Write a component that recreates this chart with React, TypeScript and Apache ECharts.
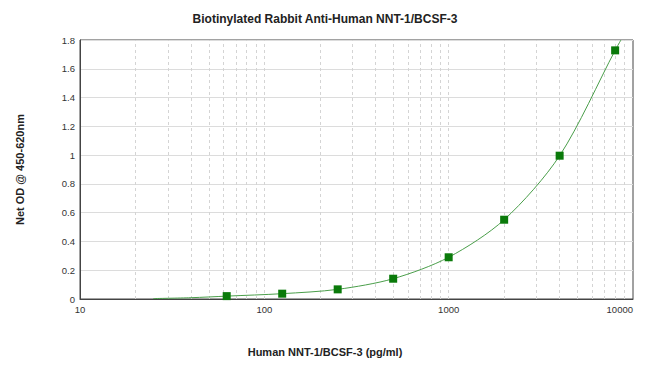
import React, { useEffect, useRef } from "react";
import * as echarts from "echarts";

const titleText = "Biotinylated Rabbit Anti-Human NNT-1/BCSF-3";
const xAxisName = "Human NNT-1/BCSF-3 (pg/ml)";
const yAxisName = "Net OD @ 450-620nm";

// Standards (pg/ml) and measured Net OD
const concentrations = [62.5, 125, 250, 500, 1000, 2000, 4000, 8000];
const odValues = [0.02, 0.037, 0.067, 0.141, 0.29, 0.551, 0.996, 1.728];

// Fitted curve
const curveX = [25, 40, 62.5, 125, 250, 500, 1000, 2000, 4000, 8000, 8600];
const curveY = [0.003, 0.009, 0.02, 0.037, 0.067, 0.141, 0.29, 0.551, 0.996, 1.728, 1.8];

// Vertical log grid lines
const logGridValues = [
  20, 30, 40, 50, 60, 70, 80, 90, 100,
  200, 300, 400, 500, 600, 700, 800, 900, 1000,
  2000, 3000, 4000, 5000, 6000, 7000, 8000, 9000,
];

const FONT = "'Liberation Sans', Arial, sans-serif";

export default function App() {
  const ref = useRef<HTMLDivElement>(null);
  useEffect(() => {
    if (!ref.current) return;
    const chart = echarts.init(ref.current, null, { renderer: "svg" });
    chart.setOption({
      animation: false,
      backgroundColor: "#ffffff",
      title: [
        {
          text: titleText,
          left: "center",
          top: 8,
          textStyle: { fontFamily: FONT, fontSize: 12, fontWeight: "bold", color: "#222" },
        },
        {
          text: xAxisName,
          left: "center",
          top: 341,
          textStyle: { fontFamily: FONT, fontSize: 11, fontWeight: "bold", color: "#222" },
        },
      ],
      grid: {
        left: 80,
        right: 17,
        top: 40,
        bottom: 70,
        show: true,
        borderColor: "#444",
        borderWidth: 1,
      },
      xAxis: {
        type: "log",
        logBase: 10,
        min: 10,
        max: 10000,
        axisLine: { show: true, lineStyle: { color: "#444" } },
        axisTick: { show: false },
        splitLine: { show: false },
        axisLabel: {
          fontFamily: FONT,
          fontSize: 9.5,
          color: "#333",
          margin: 5,
          alignMaxLabel: "right",
          formatter: (v: number) => String(Math.round(v)),
        },
      },
      yAxis: {
        type: "value",
        min: 0,
        max: 1.8,
        interval: 0.2,
        name: yAxisName,
        nameLocation: "middle",
        nameGap: 55,
        nameTextStyle: { fontFamily: FONT, fontSize: 11, fontWeight: "bold", color: "#222" },
        axisLine: { show: true, lineStyle: { color: "#444" } },
        axisTick: { show: false },
        splitLine: { show: true, lineStyle: { color: "#dcdcdc", width: 1 } },
        axisLabel: {
          fontFamily: FONT,
          fontSize: 9.5,
          color: "#333",
          margin: 5,
          formatter: (v: number) => String(Math.round(v * 10) / 10),
        },
      },
      series: [
        {
          type: "line",
          data: curveX.map((x, i) => [x, curveY[i]]),
          smooth: 0.3,
          showSymbol: false,
          lineStyle: { color: "#4a9e4a", width: 1 },
          silent: true,
          z: 3,
          markLine: {
            silent: true,
            symbol: "none",
            label: { show: false },
            lineStyle: { color: "#d4d4d4", type: [3, 3], width: 1 },
            data: logGridValues.map((v) => ({ xAxis: v })),
            z: 1,
          },
        },
        {
          type: "scatter",
          data: concentrations.map((x, i) => [x, odValues[i]]),
          symbol: "rect",
          symbolSize: 8,
          itemStyle: { color: "#0a7a0a", opacity: 1 },
          z: 5,
        },
      ],
    });
    return () => chart.dispose();
  }, []);
  return (
    <div
      ref={ref}
      style={{ position: "fixed", left: 0, top: 0, width: 650, height: 369 }}
    />
  );
}
